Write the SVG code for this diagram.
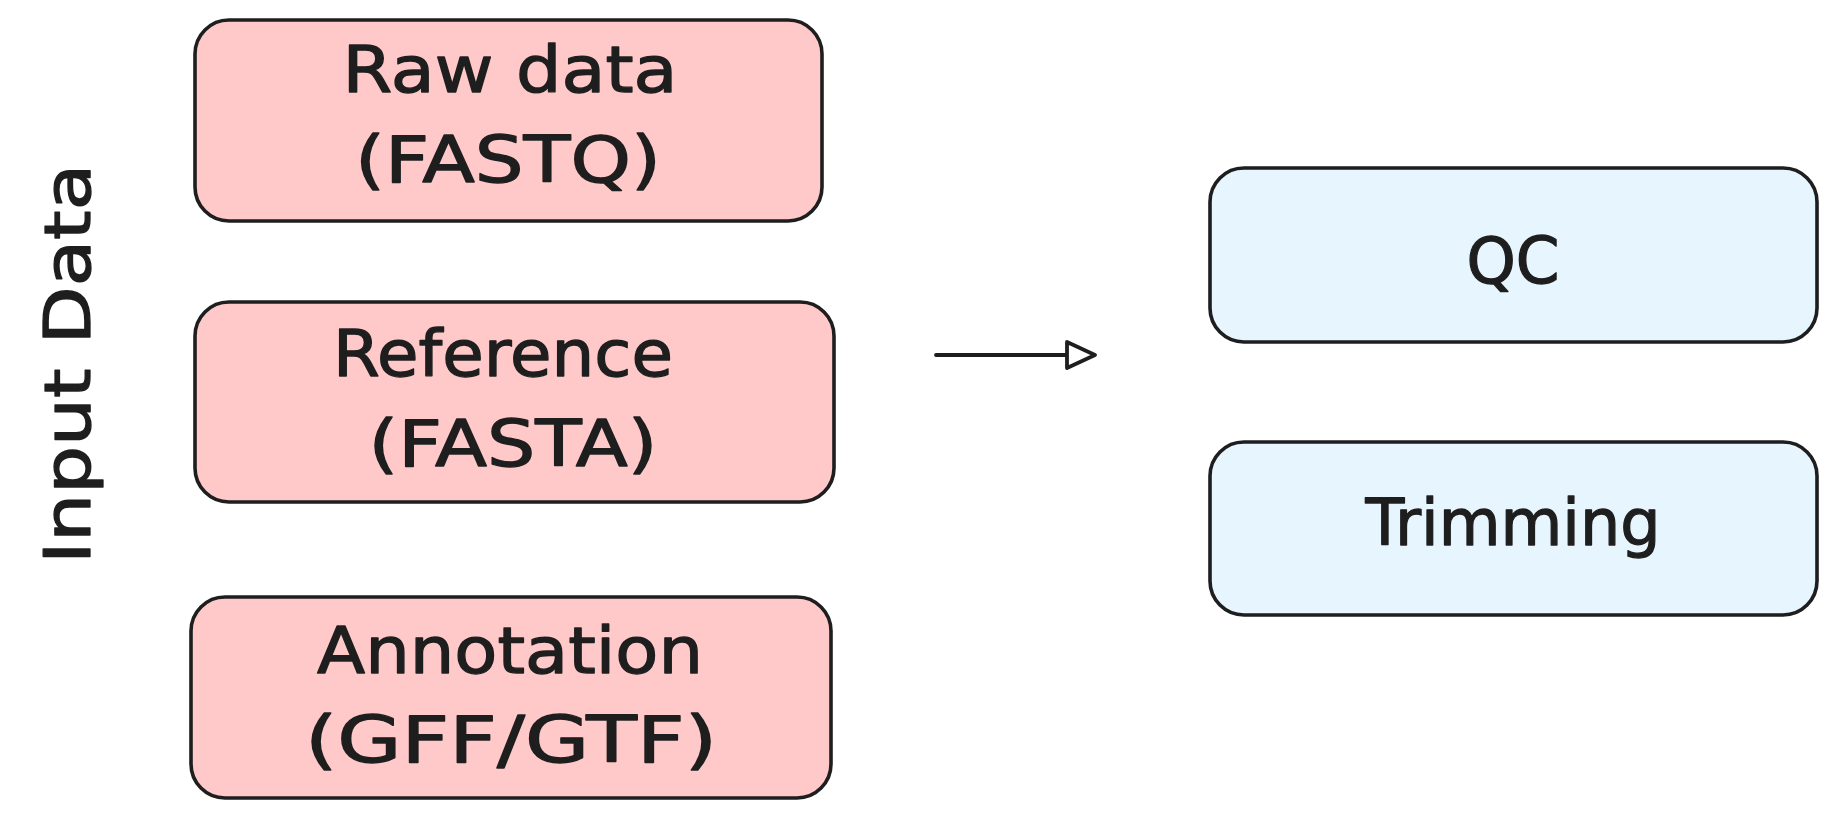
<svg xmlns="http://www.w3.org/2000/svg" width="1833" height="817" viewBox="0 0 1833 817">
  <style>
    .box { stroke: #1e1e1e; stroke-width: 3.6; }
    .in { fill: #ffc9c9; }
    .proc { fill: #e7f5ff; }
    .lbl { font-family: "DejaVu Sans", "Liberation Sans", sans-serif; font-size: 64px; fill: #1e1e1e; stroke: #1e1e1e; stroke-width: 1.3; stroke-linejoin: round; text-anchor: middle; }
    .conn { stroke: #1e1e1e; stroke-width: 3.8; stroke-linecap: round; stroke-linejoin: round; fill: none; }
  </style>
  <defs>
    <marker id="tri" viewBox="0 0 32 30" refX="1" refY="15" markerWidth="32" markerHeight="30" markerUnits="userSpaceOnUse" orient="auto">
      <path d="M2,2 L30,15 L2,28 Z" fill="#ffffff" stroke="#1e1e1e" stroke-width="3.8" stroke-linejoin="round"/>
    </marker>
  </defs>
  <rect width="1833" height="817" fill="#ffffff"/>

  <g id="label-input-data">
    <text class="lbl" transform="translate(90,364) rotate(-90)" x="0" y="0" textLength="400" lengthAdjust="spacingAndGlyphs">Input Data</text>
  </g>

  <g id="node-raw-data">
    <rect class="box in" x="195" y="20" width="627" height="201" rx="34"/>
    <text class="lbl" x="510" y="92" textLength="335" lengthAdjust="spacingAndGlyphs">Raw data</text>
    <text class="lbl" x="508" y="182" textLength="306" lengthAdjust="spacingAndGlyphs">(FASTQ)</text>
  </g>

  <g id="node-reference">
    <rect class="box in" x="195" y="302" width="639" height="200" rx="34"/>
    <text class="lbl" x="503" y="376" textLength="340" lengthAdjust="spacingAndGlyphs">Reference</text>
    <text class="lbl" x="513" y="466" textLength="289" lengthAdjust="spacingAndGlyphs">(FASTA)</text>
  </g>

  <g id="node-annotation">
    <rect class="box in" x="191" y="597" width="640" height="201" rx="34"/>
    <text class="lbl" x="510" y="673" textLength="386" lengthAdjust="spacingAndGlyphs">Annotation</text>
    <text class="lbl" x="511" y="762" textLength="412" lengthAdjust="spacingAndGlyphs">(GFF/GTF)</text>
  </g>

  <g id="node-qc">
    <rect class="box proc" x="1210" y="168" width="607" height="174" rx="34"/>
    <text class="lbl" x="1513" y="283" textLength="93" lengthAdjust="spacingAndGlyphs">QC</text>
  </g>

  <g id="node-trimming">
    <rect class="box proc" x="1210" y="442" width="607" height="173" rx="34"/>
    <text class="lbl" x="1513" y="545" textLength="295" lengthAdjust="spacingAndGlyphs">Trimming</text>
  </g>

  <g id="connectors">
    <line class="conn" x1="936" y1="355" x2="1066" y2="355" marker-end="url(#tri)"/>
  </g>
</svg>
